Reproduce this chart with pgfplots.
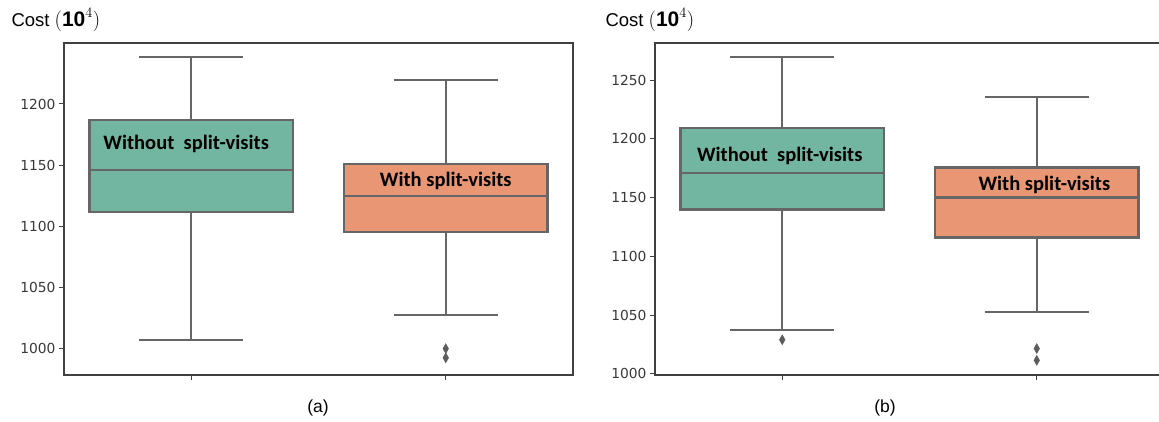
\documentclass[border=0pt]{standalone}
\usepackage{pgfplots}
\pgfplotsset{compat=1.18}
\usepackage{fontspec}
\setmainfont{Liberation Sans}
\newfontfamily\tickfont{DejaVu Sans}
\newfontfamily\boxfont{Carlito}
\definecolor{boxgreen}{HTML}{72B6A1}
\definecolor{boxorange}{HTML}{E99675}
\definecolor{linegray}{HTML}{666666}
\definecolor{framegray}{HTML}{404040}
\pgfplotsset{
  panel/.style={
    scale only axis, width=509pt, height=332pt,
    xmin=-0.5, xmax=1.5,
    xtick={0,1}, xticklabels={},
    tick align=outside, tick pos=left,
    major tick length=5pt,
    axis line style={framegray, line width=1.3pt},
    every tick/.style={framegray, line width=1pt},
    /pgf/number format/assume math mode=true,
    yticklabel style={font=\tickfont\fontsize{13.8}{15}\selectfont, text=black!78, /pgf/number format/1000 sep={}},
    clip=false,
  },
  bl/.style={draw=linegray, line width=2.2pt, mark=none},
  outl/.style={only marks, mark=diamond*, mark size=5pt, mark options={xscale=0.75, fill=linegray!90!black, draw=linegray!90!black, line width=0.4pt}},
}
\tikzset{lbl/.style={font=\boxfont\bfseries\fontsize{20.5}{24}\selectfont, text=black}}
\newcommand\costlabel{Cost {\fontsize{21}{24}\selectfont$(\mathbf{10}^{4})$}}
\begin{document}
\begin{tikzpicture}
% ---------- panel (a) ----------
\begin{axis}[panel, at={(64pt,47pt)}, anchor=south west,
  ymin=977.9, ymax=1250, ytick={1000,1050,1100,1150,1200}]
% box 1: lw 1006.5, q1 1111.5, med 1146, q3 1187, uw 1238.5
\addplot[bl] coordinates {(0,1187) (0,1238.5)};
\addplot[bl] coordinates {(-0.205,1238.5) (0.205,1238.5)};
\addplot[bl] coordinates {(0,1111.5) (0,1006.5)};
\addplot[bl] coordinates {(-0.205,1006.5) (0.205,1006.5)};
\addplot[bl, fill=boxgreen] coordinates {(-0.4,1111.5) (0.4,1111.5) (0.4,1187) (-0.4,1187)} -- cycle;
\addplot[bl] coordinates {(-0.4,1146) (0.4,1146)};
% box 2: lw 1027, q1 1095, med 1124.6, q3 1151, uw 1219.7
\addplot[bl] coordinates {(1,1151) (1,1219.7)};
\addplot[bl] coordinates {(0.795,1219.7) (1.205,1219.7)};
\addplot[bl] coordinates {(1,1095) (1,1027)};
\addplot[bl] coordinates {(0.795,1027) (1.205,1027)};
\addplot[bl, fill=boxorange] coordinates {(0.6,1095) (1.4,1095) (1.4,1151) (0.6,1151)} -- cycle;
\addplot[bl] coordinates {(0.6,1124.6) (1.4,1124.6)};
\addplot[outl] coordinates {(1,999.5) (1,992)};
\node[lbl] at (axis cs:-0.02,1167.2) {Without~~split-visits};
\node[lbl] at (axis cs:1.0,1136.9) {With split-visits};
\end{axis}
% ---------- panel (b) ----------
\begin{axis}[panel, at={(655pt,47pt)}, anchor=south west,
  ymin=999, ymax=1281.6, ytick={1000,1050,1100,1150,1200,1250}]
% box 1: lw 1037, q1 1139.8, med 1171, q3 1209, uw 1269.6
\addplot[bl] coordinates {(0,1209) (0,1269.6)};
\addplot[bl] coordinates {(-0.205,1269.6) (0.205,1269.6)};
\addplot[bl] coordinates {(0,1139.8) (0,1037)};
\addplot[bl] coordinates {(-0.205,1037) (0.205,1037)};
\addplot[bl, fill=boxgreen] coordinates {(-0.4,1139.8) (0.4,1139.8) (0.4,1209) (-0.4,1209)} -- cycle;
\addplot[bl] coordinates {(-0.4,1171) (0.4,1171)};
\addplot[outl] coordinates {(0,1029)};
% box 2: lw 1052.5, q1 1116, med 1150, q3 1175.6, uw 1235.5
\addplot[bl] coordinates {(1,1175.6) (1,1235.5)};
\addplot[bl] coordinates {(0.795,1235.5) (1.205,1235.5)};
\addplot[bl] coordinates {(1,1116) (1,1052.5)};
\addplot[bl] coordinates {(0.795,1052.5) (1.205,1052.5)};
\addplot[bl, fill=boxorange] coordinates {(0.6,1116) (1.4,1116) (1.4,1175.6) (0.6,1175.6)} -- cycle;
\addplot[bl] coordinates {(0.6,1150) (1.4,1150)};
\addplot[outl] coordinates {(1,1021.5) (1,1011.5)};
\node[lbl] at (axis cs:-0.01,1185.2) {Without~~split-visits};
\node[lbl] at (axis cs:1.03,1160.4) {With split-visits};
\end{axis}
% ---------- outer texts ----------
\node[anchor=base west, font=\fontsize{18.5}{20}\selectfont] at (8pt,395pt) {\costlabel};
\node[anchor=base west, font=\fontsize{18.5}{20}\selectfont] at (602pt,395pt) {\costlabel};
\node[font=\fontsize{17.5}{20}\selectfont] at (318pt,14pt) {(a)};
\node[font=\fontsize{17.5}{20}\selectfont] at (885pt,14pt) {(b)};
\pgfresetboundingbox
\useasboundingbox (0,0) rectangle (1159pt,422pt);
\end{tikzpicture}
\end{document}
